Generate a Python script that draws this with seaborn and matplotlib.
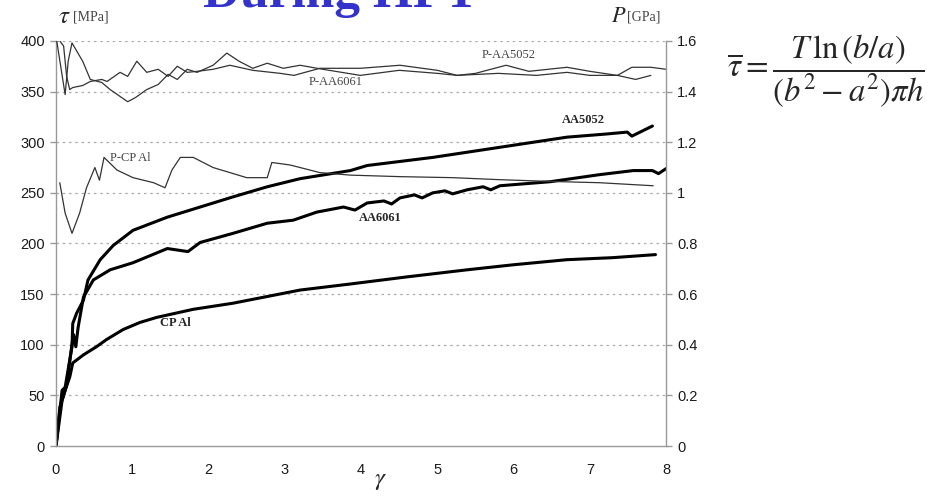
import matplotlib
matplotlib.use("Agg")
import matplotlib.pyplot as plt
import seaborn as sns

# values
# shear stress curves, tau [MPa] vs gamma
aa5052_x = [0, 0.08, 0.12, 0.21, 0.22, 0.27, 0.36, 0.42, 0.58, 0.75, 1.01, 1.46, 1.89, 2.32, 2.77, 3.2, 3.86, 4.08, 4.94, 5.82, 6.7, 7.2, 7.49, 7.55, 7.82]
aa5052_y = [0, 55, 58, 98, 121, 131, 144, 164, 184, 198, 213, 226, 236, 246, 256, 264, 272, 277, 285, 295, 305, 308, 310, 306, 316]

aa6061_x = [0, 0.08, 0.14, 0.2, 0.23, 0.26, 0.29, 0.36, 0.49, 0.71, 1.01, 1.46, 1.73, 1.89, 2.32, 2.77, 3.11, 3.42, 3.77, 3.92, 4.08, 4.3, 4.4, 4.51, 4.7, 4.8, 4.94, 5.1, 5.2, 5.39, 5.6, 5.7, 5.82, 6.48, 7.13, 7.57, 7.82, 7.9, 8.0]
aa6061_y = [0, 45, 60, 95, 110, 98, 117, 147, 164, 174, 181, 195, 192, 201, 210, 220, 223, 231, 236, 233, 240, 242, 239, 245, 248, 245, 250, 252, 249, 253, 256, 253, 257, 261, 268, 272, 272, 269, 274]

cpal_x = [0, 0.05, 0.12, 0.18, 0.22, 0.36, 0.53, 0.66, 0.88, 1.1, 1.32, 1.8, 2.32, 3.2, 3.86, 4.6, 5.39, 6.0, 6.7, 7.3, 7.86]
cpal_y = [0, 38, 55, 68, 82, 90, 98, 105, 115, 122, 127, 135, 141, 154, 160, 167, 174, 179, 184, 186, 189]

# pressure curves, P [GPa] vs gamma
p_cpal_x = [0.05, 0.12, 0.21, 0.31, 0.40, 0.51, 0.57, 0.63, 0.80, 1.01, 1.28, 1.43, 1.52, 1.63, 1.80, 2.06, 2.50, 2.77, 2.83, 3.07, 3.46, 3.86, 4.51, 5.2, 5.82, 6.5, 7.13, 7.83]
p_cpal_y = [1.04, 0.92, 0.84, 0.92, 1.02, 1.10, 1.05, 1.14, 1.09, 1.06, 1.04, 1.02, 1.09, 1.14, 1.14, 1.10, 1.06, 1.06, 1.12, 1.11, 1.08, 1.07, 1.064, 1.06, 1.052, 1.045, 1.04, 1.028]

p_6061_x = [0.01, 0.12, 0.16, 0.21, 0.35, 0.45, 0.60, 0.71, 0.94, 1.04, 1.19, 1.34, 1.47, 1.59, 1.72, 1.85, 2.06, 2.24, 2.40, 2.58, 2.77, 2.98, 3.2, 3.5, 3.99, 4.5, 5.0, 5.26, 5.8, 6.3, 6.7, 7.0, 7.36, 7.6, 7.8]
p_6061_y = [1.60, 1.388, 1.52, 1.592, 1.52, 1.448, 1.436, 1.408, 1.36, 1.376, 1.408, 1.428, 1.468, 1.448, 1.488, 1.476, 1.504, 1.552, 1.52, 1.492, 1.512, 1.492, 1.504, 1.488, 1.464, 1.484, 1.472, 1.464, 1.472, 1.464, 1.476, 1.464, 1.464, 1.448, 1.464]

p_5052_x = [0.05, 0.10, 0.14, 0.18, 0.22, 0.35, 0.45, 0.60, 0.67, 0.84, 0.94, 1.06, 1.19, 1.34, 1.47, 1.59, 1.72, 1.85, 2.06, 2.28, 2.58, 2.94, 3.12, 3.46, 3.99, 4.51, 5.0, 5.26, 5.5, 5.9, 6.2, 6.7, 7.0, 7.36, 7.55, 7.8, 8.0]
p_5052_y = [1.60, 1.58, 1.46, 1.408, 1.416, 1.424, 1.44, 1.448, 1.44, 1.476, 1.46, 1.52, 1.476, 1.488, 1.46, 1.50, 1.476, 1.48, 1.488, 1.504, 1.484, 1.472, 1.464, 1.492, 1.492, 1.504, 1.484, 1.464, 1.472, 1.504, 1.48, 1.496, 1.48, 1.464, 1.496, 1.496, 1.488]

x_ticks = [0, 1, 2, 3, 4, 5, 6, 7, 8]
tau_ticks = [0, 50, 100, 150, 200, 250, 300, 350, 400]
p_ticks = [0, 0.2, 0.4, 0.6, 0.8, 1.0, 1.2, 1.4, 1.6]
p_tick_labels = ["0", "0.2", "0.4", "0.6", "0.8", "1", "1.2", "1.4", "1.6"]

sns.set_theme(style="white")
plt.rcParams['font.family'] = ['Liberation Sans', 'DejaVu Sans']
plt.rcParams['mathtext.fontset'] = 'stix'

fig = plt.figure(figsize=(9.33, 4.97), dpi=100)
ax = fig.add_axes([0.060, 0.1026, 0.654, 0.815])
ax2 = ax.twinx()

thick = dict(color="black", linewidth=2.2)
thin = dict(color="#333333", linewidth=0.9)
sns.lineplot(x=aa5052_x, y=aa5052_y, ax=ax, **thick)
sns.lineplot(x=aa6061_x, y=aa6061_y, ax=ax, **thick)
sns.lineplot(x=cpal_x, y=cpal_y, ax=ax, **thick)
sns.lineplot(x=p_cpal_x, y=p_cpal_y, ax=ax2, **thin)
sns.lineplot(x=p_6061_x, y=p_6061_y, ax=ax2, **thin)
sns.lineplot(x=p_5052_x, y=p_5052_y, ax=ax2, **thin)

ax.set_xlim(0, 8)
ax.set_ylim(0, 400)
ax2.set_ylim(0, 1.6)
ax.set_xticks(x_ticks)
ax.set_yticks(tau_ticks)
ax2.set_yticks(p_ticks)
ax2.set_yticklabels(p_tick_labels)
ax.set_xlabel("")
ax.set_ylabel("")
ax2.set_ylabel("")

for t in tau_ticks[1:]:
    ax.axhline(t, color="#aaaaaa", linestyle=(0, (2, 3)), linewidth=0.9, zorder=0)

for a in (ax, ax2):
    a.spines["top"].set_visible(False)
    for s in ("left", "right", "bottom"):
        a.spines[s].set_color("#999999")
        a.spines[s].set_linewidth(1.0)
ax.spines["right"].set_visible(False)
ax2.spines["left"].set_visible(False)
ax2.spines["bottom"].set_visible(False)
ax.tick_params(axis="both", direction="out", length=4, width=1, color="#999999", labelsize=10.5, labelcolor="#1a1a1a", pad=4)
ax2.tick_params(axis="y", direction="out", length=4, width=1, color="#999999", labelsize=10.5, labelcolor="#1a1a1a", pad=4)
ax.tick_params(axis="x", pad=8)

serif = ['Liberation Serif', 'DejaVu Serif']
ax.text(6.91, 322, "AA5052", family=serif, fontweight="bold", fontsize=9, ha="center", va="center")
ax.text(4.25, 225, "AA6061", family=serif, fontweight="bold", fontsize=9, ha="center", va="center")
ax.text(1.56, 121, "CP Al", family=serif, fontweight="bold", fontsize=9, ha="center", va="center")
ax2.text(0.97, 1.136, "P-CP Al", family=serif, fontsize=9, color="#444444", ha="center", va="center")
ax2.text(3.67, 1.436, "P-AA6061", family=serif, fontsize=9, color="#444444", ha="center", va="center")
ax2.text(5.93, 1.544, "P-AA5052", family=serif, fontsize=9, color="#444444", ha="center", va="center")

# axis titles
fig.text(58 / 933, 1 - 16 / 497, r"$\tau$", fontsize=18, ha="left", va="center")
fig.text(73 / 933, 1 - 17 / 497, "[MPa]", family=serif, fontsize=10, color="#444444", ha="left", va="center")
fig.text(611 / 933, 1 - 16 / 497, r"$P$", fontsize=16, ha="left", va="center")
fig.text(627 / 933, 1 - 17 / 497, "[GPa]", family=serif, fontsize=10, color="#444444", ha="left", va="center")
fig.text(380 / 933, 1 - 480 / 497, r"$\gamma$", fontsize=18, ha="center", va="center")

# title cut off at the top edge, as in the source slide
fig.text(203 / 933, 1 - 7 / 497, "During HPT", family=serif, fontweight="bold", fontsize=37, color="#3333cc", ha="left", va="baseline")

# formula
fig.text(727 / 933, 1 - 71 / 497, r"$\overline{\tau} = \dfrac{T\,\ln\left(b/a\right)}{\left(b^2-a^2\right)\pi h}$", fontsize=23.5, ha="left", va="center")

fig.savefig("out.png", dpi=100)
